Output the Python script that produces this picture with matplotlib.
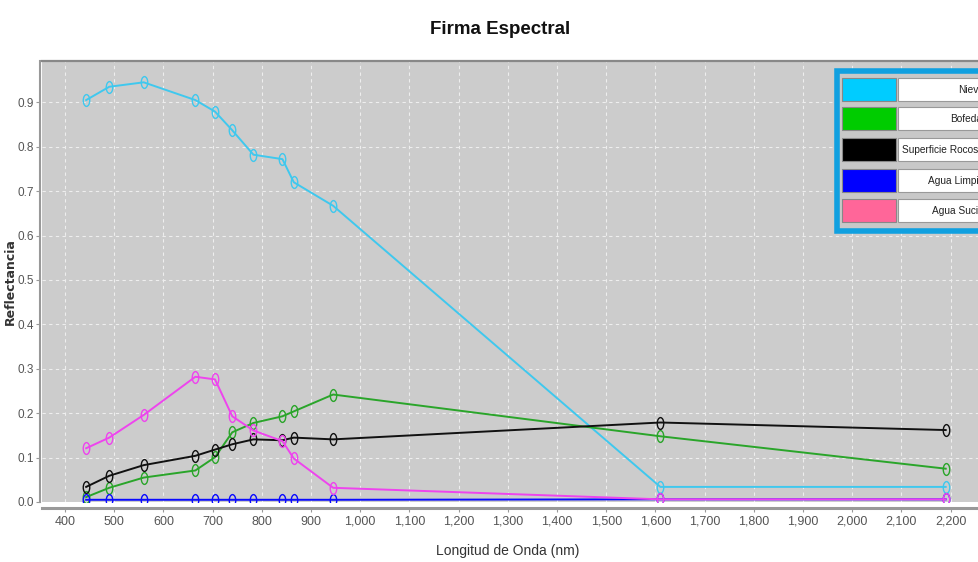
import matplotlib
matplotlib.use('Agg')
import matplotlib.pyplot as plt
from matplotlib.path import Path
from matplotlib.transforms import Affine2D
from matplotlib.ticker import FuncFormatter, MultipleLocator
import matplotlib.patches as mpatches

plt.rcParams['font.family'] = ['Liberation Sans', 'DejaVu Sans']

# bandas (nm)
wavelength = [443, 490, 560, 665, 705, 740, 783, 842, 865, 945, 1610, 2190]

nieve = [0.905, 0.935, 0.945, 0.905, 0.879, 0.837, 0.782, 0.772, 0.720, 0.667, 0.034, 0.034]
bofedal = [0.011, 0.032, 0.055, 0.071, 0.101, 0.157, 0.178, 0.193, 0.204, 0.242, 0.148, 0.075]
roca = [0.034, 0.059, 0.083, 0.104, 0.118, 0.130, 0.141, 0.139, 0.145, 0.141, 0.179, 0.162]
agua_limpia = [0.005, 0.005, 0.005, 0.005, 0.005, 0.005, 0.005, 0.005, 0.005, 0.005, 0.006, 0.006]
agua_sucia = [0.121, 0.145, 0.196, 0.282, 0.276, 0.193, 0.161, 0.137, 0.098, 0.032, 0.006, 0.006]

series_names = ['Nieve', 'Bofedal', 'Superficie Rocosa', 'Agua Limpia', 'Agua Sucia']
series_data = [nieve, bofedal, roca, agua_limpia, agua_sucia]
line_colors = ['#3fc8ee', '#2aa52a', '#111111', '#0a0aff', '#ee44ee']
swatch_colors = ['#00ccff', '#00cc00', '#000000', '#0000ff', '#ff6699']

W, H = 979, 562
fig = plt.figure(figsize=(W / 100, H / 100), dpi=100)

# axes: x 42..990 px, y 61..502 px
ax = fig.add_axes([42 / W, (H - 502) / H, (990 - 42) / W, (502 - 61) / H])
ax.set_facecolor('#cccccc')

# elipse vertical como marcador
ellipse = Path.unit_circle().transformed(Affine2D().scale(0.55, 1.0))

for vals, c in zip(series_data, line_colors):
    ax.plot(wavelength, vals, color=c, lw=1.4, marker=ellipse, ms=8.5,
            mfc='none', mec=c, mew=1.0, zorder=3)

ax.set_xlim(353.3, 2280)
ax.set_ylim(0, 0.993)
ax.xaxis.set_major_locator(MultipleLocator(100))
ax.yaxis.set_major_locator(MultipleLocator(0.1))
ax.xaxis.set_major_formatter(FuncFormatter(lambda v, p: f'{int(v):,}'))
ax.yaxis.set_major_formatter(FuncFormatter(lambda v, p: f'{v:.1f}'))

ax.grid(True, color='#eeeeee', lw=0.8, ls=(0, (3, 3)))
ax.set_axisbelow(True)

ax.spines['right'].set_visible(False)
ax.spines['top'].set_color('#888888')
ax.spines['top'].set_linewidth(1.6)
ax.spines['bottom'].set_position(('outward', 4.5))
ax.spines['bottom'].set_color('#999999')
ax.spines['bottom'].set_linewidth(2.2)
ax.spines['left'].set_position(('outward', 1.5))
ax.spines['left'].set_color('#999999')
ax.spines['left'].set_linewidth(1.5)

ax.tick_params(axis='both', colors='#999999', labelcolor='#555555',
               labelsize=9, length=3, width=0.8, pad=2.5)
ax.tick_params(axis='y', labelsize=8.5, pad=1)

fig.text(500 / W, 1 - 30 / H, 'Firma Espectral', ha='center', va='center',
         fontsize=13.5, fontweight='bold', color='#111111')
fig.text(508 / W, 1 - 551 / H, 'Longitud de Onda (nm)', ha='center',
         va='center', fontsize=10, color='#333333')
fig.text(10 / W, 1 - 282 / H, 'Reflectancia', ha='center', va='center',
         rotation=90, fontsize=9, fontweight='bold', color='#333333',
         family='DejaVu Sans')

# leyenda tipo tabla (recortada por el borde derecho)
def px(x0, y0, w, h):
    return (x0 / W, 1 - (y0 + h) / H), w / W, h / H

xy, w, h = px(837, 71, 200, 160)
fig.patches.append(mpatches.Rectangle(xy, w, h, transform=fig.transFigure,
                                      facecolor='#c8c8c8', edgecolor='#10a0e0',
                                      lw=4, zorder=5))
row_top = [78, 107, 138, 169, 199]
for name, sc, y0 in zip(series_names, swatch_colors, row_top):
    xy, w, h = px(842, y0, 54, 23)
    fig.patches.append(mpatches.Rectangle(xy, w, h, transform=fig.transFigure,
                                          facecolor=sc, edgecolor='#888888',
                                          lw=0.8, zorder=6))
    xy, w, h = px(898, y0, 120, 23)
    fig.patches.append(mpatches.Rectangle(xy, w, h, transform=fig.transFigure,
                                          facecolor='white', edgecolor='#999999',
                                          lw=0.8, zorder=6))
    fig.text(984 / W, 1 - (y0 + 12) / H, name, ha='right', va='center',
             fontsize=7.3, color='#222222', zorder=7)

fig.savefig('out.png', dpi=100)
